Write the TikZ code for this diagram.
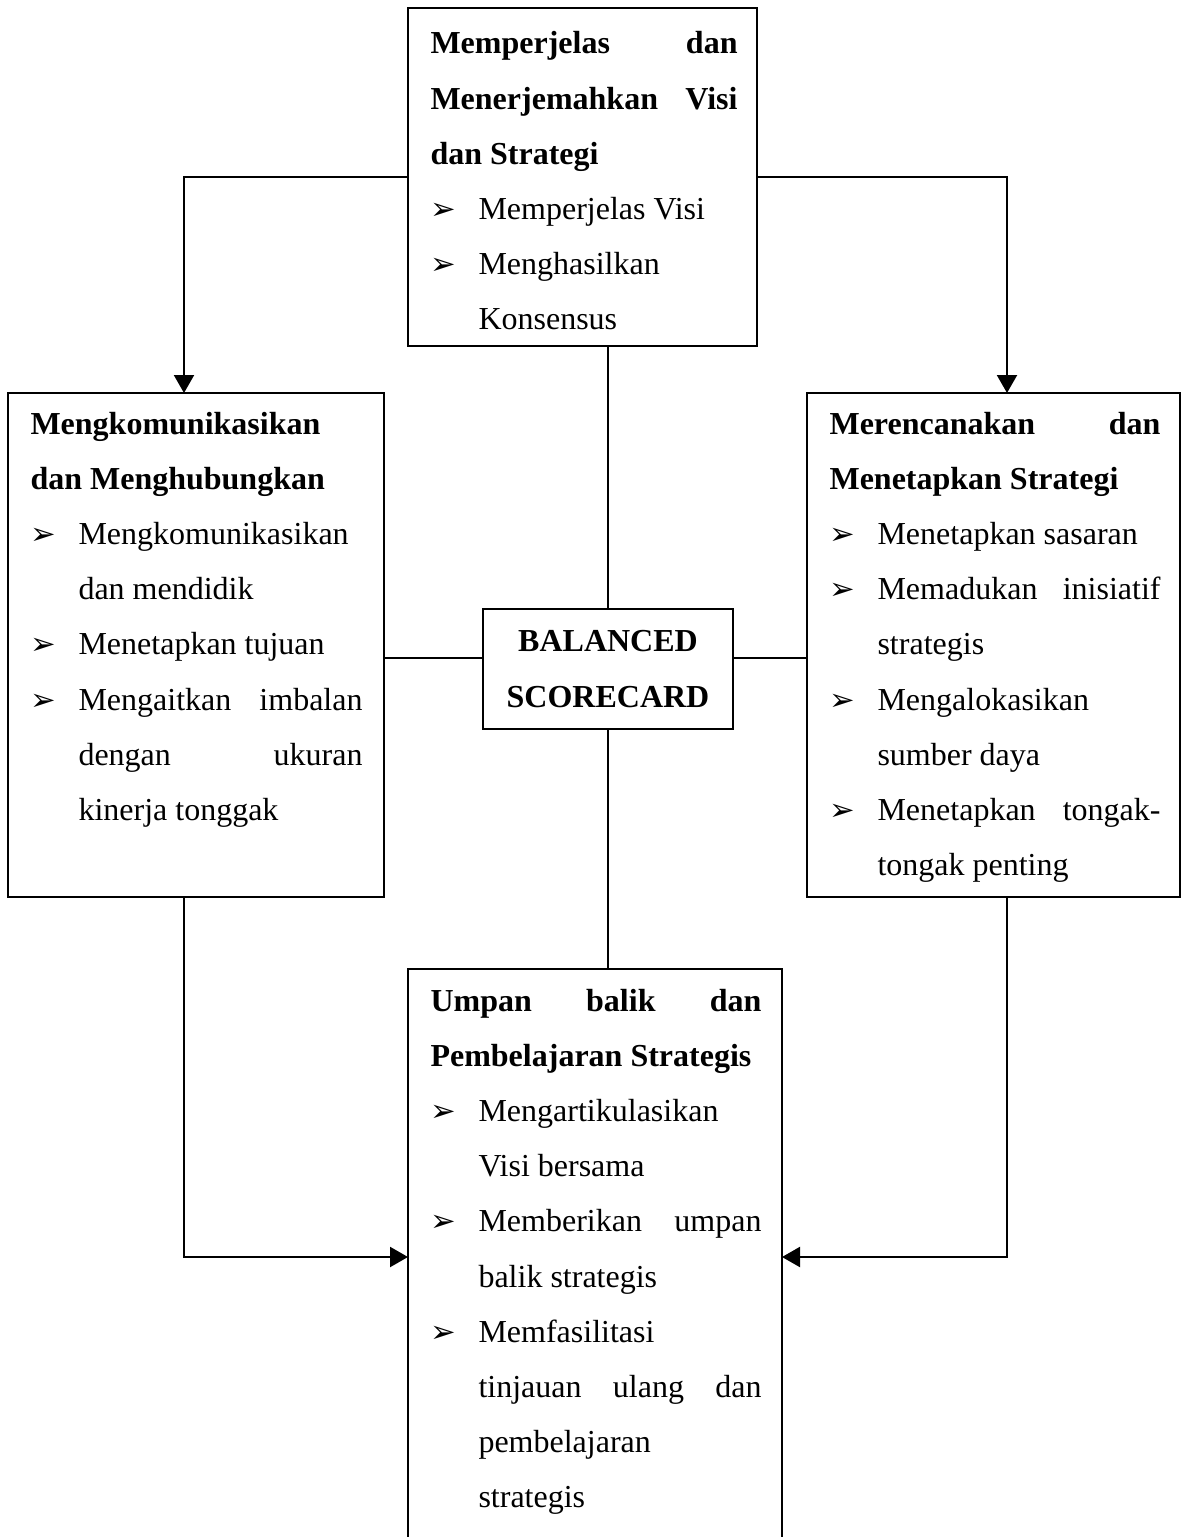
\documentclass[tikz,border=0pt]{standalone}
\usepackage{fontspec}
\usepackage{xcolor}
\usepackage{tikz}
\usetikzlibrary{arrows.meta}
\setmainfont{Liberation Serif}
\newfontfamily\simbol{DejaVu Sans}
\newcommand\px{0.375pt}
\newcommand\butir{\par\noindent\hangindent=18pt\hangafter=1\makebox[18pt][l]{\simbol\fontsize{11.5}{11.5}\selectfont ➢}}

\begin{document}
\begin{tikzpicture}[x=0.375pt,y=-0.375pt,
    kotak/.style={draw,line width=.8pt,inner sep=0pt,outer sep=0pt,anchor=north west},
    teks/.style={anchor=base west,inner sep=0pt,align=justify,
      font=\fontsize{12}{20.7}\selectfont,
      execute at begin node={\tolerance=10000\hyphenpenalty=10000}},
    panah/.style={line width=.8pt,-{Triangle[length=6.75pt,width=7.5pt]}},
    garis/.style={line width=.8pt}]
    \useasboundingbox (0,0) rectangle (1181,1537);
    % kotak
    \node[kotak,minimum width=349*\px,minimum height=338*\px] (visi) at (408,8) {};
    \node[kotak,minimum width=376*\px,minimum height=504*\px] (komunikasi) at (8,393) {};
    \node[kotak,minimum width=373*\px,minimum height=504*\px] (rencana) at (807,393) {};
    \node[kotak,minimum width=374*\px,minimum height=640*\px] (umpan) at (408,969) {};
    \node[kotak,minimum width=250*\px,minimum height=120*\px,align=center,
      font=\fontsize{12}{20.7}\selectfont\bfseries] (bsc) at (483,609) {BALANCED\\SCORECARD};
    % isi kotak
    \node[teks,text width=307*\px] (visi-teks) at (430,54) {%
      \textbf{Memperjelas dan\linebreak Menerjemahkan Visi\linebreak dan Strategi}
      \butir Memperjelas Visi
      \butir Menghasilkan\newline Konsensus\par};
    \node[teks,text width=332*\px] (komunikasi-teks) at (30,434) {%
      \textbf{Mengkomunikasikan\newline dan Menghubungkan}
      \butir Mengkomunikasikan\newline dan mendidik
      \butir Menetapkan tujuan
      \butir Mengaitkan imbalan\linebreak dengan ukuran\linebreak kinerja tonggak\par};
    \node[teks,text width=331*\px] (rencana-teks) at (829,434) {%
      \textbf{Merencanakan dan\linebreak Menetapkan Strategi}
      \butir Menetapkan sasaran
      \butir Memadukan inisiatif\linebreak strategis
      \butir Mengalokasikan\newline sumber daya
      \butir Menetapkan tongak-\linebreak tongak penting\par};
    \node[teks,text width=331*\px] (umpan-teks) at (430,1011) {%
      \textbf{Umpan balik dan\linebreak Pembelajaran Strategis}
      \butir Mengartikulasikan\newline Visi bersama
      \butir Memberikan umpan\linebreak balik strategis
      \butir Memfasilitasi\newline tinjauan ulang dan\linebreak pembelajaran\newline strategis\par};
    % penghubung
    \coordinate (sikukiri) at (184,0);
    \coordinate (sikukanan) at (1007,0);
    \coordinate (tengah) at (0,658);
    \coordinate (bawah) at (0,1257);
    \draw[panah] (visi.west) -| (sikukiri |- komunikasi.north);
    \draw[panah] (visi.east) -| (sikukanan |- rencana.north);
    \draw[garis] (bsc.north |- visi.south) -- (bsc.north);
    \draw[garis] (bsc.south) -- (bsc.south |- umpan.north);
    \draw[garis] (komunikasi.east |- tengah) -- (bsc.west |- tengah);
    \draw[garis] (bsc.east |- tengah) -- (rencana.west |- tengah);
    \draw[panah] (sikukiri |- komunikasi.south) |- (umpan.west |- bawah);
    \draw[panah] (sikukanan |- rencana.south) |- (umpan.east |- bawah);
  \end{tikzpicture}
\end{document}
